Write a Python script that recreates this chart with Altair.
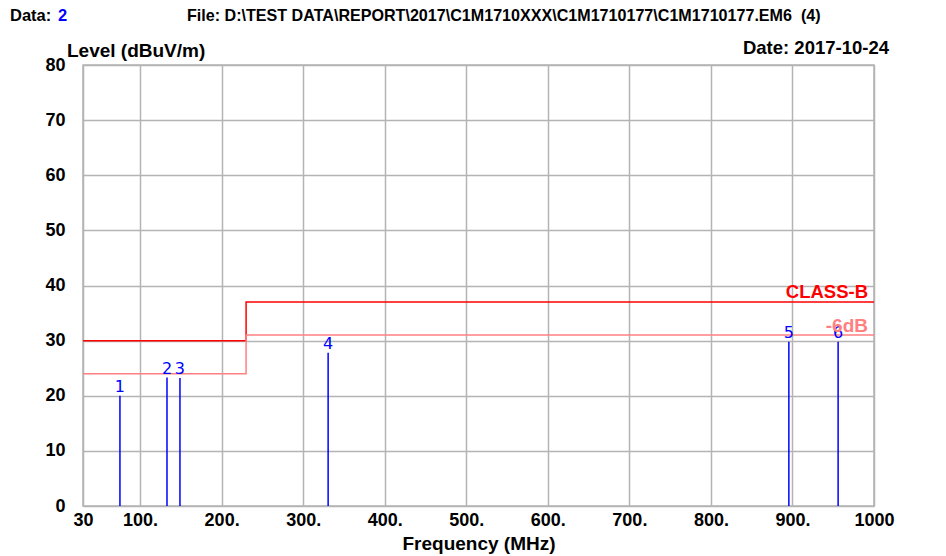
import altair as alt
import pandas as pd

# ---- data ----
limit_freq = [30, 230, 230, 1000]
classb_level = [30, 30, 37, 37]
margin_level = [24, 24, 31, 31]

marker_id = ["1", "2", "3", "4", "5", "6"]
marker_freq = [75.3, 133.0, 148.9, 330.6, 895.6, 956.0]
marker_level = [20.0, 23.3, 23.2, 27.8, 29.8, 29.8]

x_ticks = [30, 100, 200, 300, 400, 500, 600, 700, 800, 900, 1000]
y_ticks = [0, 10, 20, 30, 40, 50, 60, 70, 80]

FONT = "Liberation Sans"
W, H = 791, 441

limits = pd.DataFrame({
    "freq": limit_freq * 2,
    "level": classb_level + margin_level,
    "series": ["CLASS-B"] * 4 + ["-6dB"] * 4,
    "order": [0, 1, 2, 3] * 2,
})
markers = pd.DataFrame({"id": marker_id, "freq": marker_freq, "level": marker_level})

xscale = alt.Scale(domain=[30, 1000], nice=False, zero=False)
yscale = alt.Scale(domain=[0, 80], nice=False)

xaxis = alt.Axis(
    values=x_ticks,
    labelExpr="(datum.value == 30 || datum.value == 1000) ? datum.value + '' : datum.value + '.'",
    title="Frequency (MHz)", titleFont=FONT, titleFontSize=19, titleFontWeight="bold",
    titleColor="#000", titlePadding=5,
    labelFont=FONT, labelFontSize=18, labelFontWeight="bold", labelColor="#000",
    labelPadding=5, tickSize=0, domain=False,
    grid=True, gridColor="#b4b4b4", gridWidth=1.5,
    labelOverlap=False, labelFlush=False,
)
yaxis = alt.Axis(
    values=y_ticks, title=None,
    labelFont=FONT, labelFontSize=18, labelFontWeight="bold", labelColor="#000",
    labelPadding=18, tickSize=0, domain=False,
    grid=True, gridColor="#b4b4b4", gridWidth=1.5,
)

base_lim = alt.Chart(limits)
classb = base_lim.transform_filter(alt.datum.series == "CLASS-B").mark_line(
    color="#ff0000", strokeWidth=1.5
).encode(
    x=alt.X("freq:Q", scale=xscale, axis=xaxis),
    y=alt.Y("level:Q", scale=yscale, axis=yaxis),
    order="order:Q",
)
margin = base_lim.transform_filter(alt.datum.series == "-6dB").mark_line(
    color="#ff8080", strokeWidth=1.5
).encode(
    x=alt.X("freq:Q", scale=xscale),
    y=alt.Y("level:Q", scale=yscale),
    order="order:Q",
)

rules = alt.Chart(markers).mark_rule(color="#0000ff", strokeWidth=1.5).encode(
    x=alt.X("freq:Q", scale=xscale),
    y=alt.Y("level:Q", scale=yscale),
    y2=alt.datum(0),
)
mlabels = alt.Chart(markers).mark_text(
    color="#0000ff", font="DejaVu Sans", fontSize=16, baseline="alphabetic", dy=-4
).encode(
    x=alt.X("freq:Q", scale=xscale),
    y=alt.Y("level:Q", scale=yscale),
    text="id:N",
)

def label(txt, x, y, color="#000", align="left", size=16, weight="bold"):
    return alt.Chart(pd.DataFrame({"t": [txt]})).mark_text(
        font=FONT, fontSize=size, fontWeight=weight, color=color,
        align=align, baseline="middle",
    ).encode(x=alt.value(x), y=alt.value(y), text="t:N")

texts = [
    label("Data:", -73, -49, size=16.5),
    label("2", -25, -49, color="#0000ff", size=16.5),
    label("File: D:\\TEST DATA\\REPORT\\2017\\C1M1710XXX\\C1M1710177\\C1M1710177.EM6\u00a0\u00a0(4)", 104, -49, size=16.1),
    label("Level (dBuV/m)", -16, -14, size=19),
    label("Date: 2017-10-24", 806, -17, align="right", size=18.5),
    label("CLASS-B", 785, 227, color="#ff0000", align="right", size=18.5),
    label("-6dB", 785, 261, color="#ff8080", align="right", size=19),
]

chart = alt.layer(classb, margin, rules, mlabels, *texts).properties(
    width=W, height=H,
    padding={"left": 83, "top": 65, "right": 72, "bottom": 50},
    autosize=alt.AutoSizeParams(type="none"),
    background="#ffffff",
).configure_view(stroke="#b4b4b4", strokeWidth=1.5)

chart.save("out.html", embed_options={"renderer": "svg", "actions": False})
